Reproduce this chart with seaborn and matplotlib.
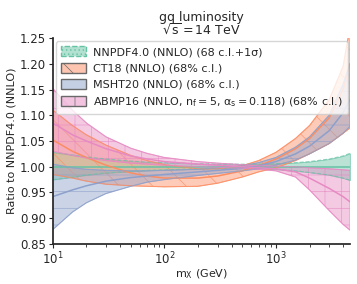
import numpy as np
import pandas as pd
import matplotlib
matplotlib.use('Agg')
import matplotlib.pyplot as plt
import seaborn as sns
from matplotlib.patches import Patch

# invariant mass points (GeV)
mass = [10, 15, 20, 30, 50, 70, 100, 200, 300, 500, 700, 1000, 1500, 2000, 3000, 4000, 4600]

# NNPDF4.0 (reference, central = 1)
nnpdf_mid = [1.0] * 17
nnpdf_hi = [1.028, 1.023, 1.019, 1.015, 1.011, 1.009, 1.008, 1.006, 1.005, 1.005, 1.005, 1.006, 1.008, 1.010, 1.015, 1.021, 1.026]
nnpdf_lo = [0.975, 0.980, 0.984, 0.988, 0.991, 0.993, 0.994, 0.996, 0.997, 0.997, 0.997, 0.995, 0.992, 0.989, 0.984, 0.978, 0.974]

# CT18
ct18_mid = [1.052, 1.030, 1.018, 1.003, 0.988, 0.982, 0.978, 0.978, 0.982, 0.992, 1.002, 1.015, 1.035, 1.055, 1.095, 1.150, 1.200]
ct18_hi = [1.110, 1.080, 1.062, 1.042, 1.022, 1.012, 1.004, 0.996, 0.996, 1.002, 1.012, 1.028, 1.055, 1.080, 1.130, 1.195, 1.270]
ct18_lo = [0.985, 0.978, 0.972, 0.966, 0.963, 0.962, 0.961, 0.962, 0.968, 0.980, 0.990, 0.998, 1.012, 1.025, 1.045, 1.065, 1.075]

# MSHT20
msht_mid = [0.942, 0.955, 0.963, 0.972, 0.979, 0.982, 0.985, 0.990, 0.993, 0.997, 1.002, 1.010, 1.025, 1.040, 1.070, 1.105, 1.130]
msht_hi = [1.005, 0.998, 0.995, 0.993, 0.992, 0.992, 0.993, 0.995, 0.998, 1.002, 1.008, 1.018, 1.038, 1.058, 1.100, 1.160, 1.200]
msht_lo = [0.878, 0.912, 0.930, 0.948, 0.962, 0.970, 0.975, 0.983, 0.987, 0.992, 0.996, 1.003, 1.013, 1.025, 1.045, 1.065, 1.078]

# ABMP16
abmp_mid = [1.085, 1.062, 1.050, 1.035, 1.021, 1.015, 1.010, 1.005, 1.003, 1.000, 0.998, 0.996, 0.990, 0.978, 0.958, 0.942, 0.932]
abmp_hi = [1.152, 1.110, 1.085, 1.058, 1.036, 1.026, 1.018, 1.010, 1.007, 1.004, 1.002, 1.001, 1.000, 0.998, 0.996, 0.994, 0.993]
abmp_lo = [1.030, 1.022, 1.017, 1.012, 1.007, 1.005, 1.003, 1.000, 0.999, 0.997, 0.995, 0.992, 0.980, 0.955, 0.915, 0.888, 0.877]

labels = ['NNPDF4.0 (NNLO) (68 c.l.+1σ)',
          'CT18 (NNLO) (68% c.l.)',
          'MSHT20 (NNLO) (68% c.l.)',
          r'ABMP16 (NNLO, $n_f=5$, $\alpha_s=0.118$) (68% c.l.)']
hatches = ['....', '\\', '-', '+']

sns.set_theme(style='ticks')
plt.rcParams['font.family'] = ['DejaVu Sans']
plt.rcParams['mathtext.fontset'] = 'dejavusans'
plt.rcParams['mathtext.default'] = 'regular'
plt.rcParams['hatch.linewidth'] = 0.5
colors = sns.color_palette('Set2', 4)

fig = plt.figure(figsize=(3.57, 2.84), dpi=100)
ax = fig.add_axes([0.148, 0.141, 0.832, 0.725])

bands = [(nnpdf_mid, nnpdf_lo, nnpdf_hi), (ct18_mid, ct18_lo, ct18_hi),
         (msht_mid, msht_lo, msht_hi), (abmp_mid, abmp_lo, abmp_hi)]

handles = []
for i, (mid, lo, hi) in enumerate(bands):
    c = colors[i]
    ax.fill_between(mass, lo, hi, facecolor=(*c, 0.45), edgecolor=(*c, 0.8),
                    hatch=hatches[i] if i > 0 else None, linewidth=0.6)
    ls = '--' if i == 0 else '-'
    sns.lineplot(x=mass, y=lo, ax=ax, color=c, lw=0.8, ls=ls, alpha=0.7)
    sns.lineplot(x=mass, y=hi, ax=ax, color=c, lw=0.8, ls=ls, alpha=0.7)
    sns.lineplot(x=mass, y=mid, ax=ax, color=c, lw=1.1)
    handles.append(Patch(facecolor=(*c, 0.5), edgecolor='dimgray' if i > 0 else c,
                         hatch=hatches[i], linestyle='--' if i == 0 else '-', linewidth=1.0))

ax.set_xscale('log')
ax.set_xlim(10, 4600)
ax.set_ylim(0.85, 1.25)
ax.set_yticks(np.arange(0.85, 1.26, 0.05))
ax.tick_params(labelsize=8.5, length=3, width=0.8, pad=2)
ax.tick_params(which='minor', length=1.8, width=0.6)
sns.despine(ax=ax)
ax.set_xlabel('$m_X$ (GeV)', fontsize=8, labelpad=0)
ax.set_ylabel('Ratio to NNPDF4.0 (NNLO)', fontsize=8, labelpad=2)
ax.set_title('gq luminosity\n$\\sqrt{s}=14$ TeV', fontsize=9, pad=2, linespacing=0.95)

ax.legend(handles, labels, loc='upper left', fontsize=8.0, frameon=True,
          handlelength=2.2, handleheight=1.0, borderaxespad=0.3,
          labelspacing=0.5, handletextpad=0.7, borderpad=0.45)

fig.savefig('out.png', dpi=100)
